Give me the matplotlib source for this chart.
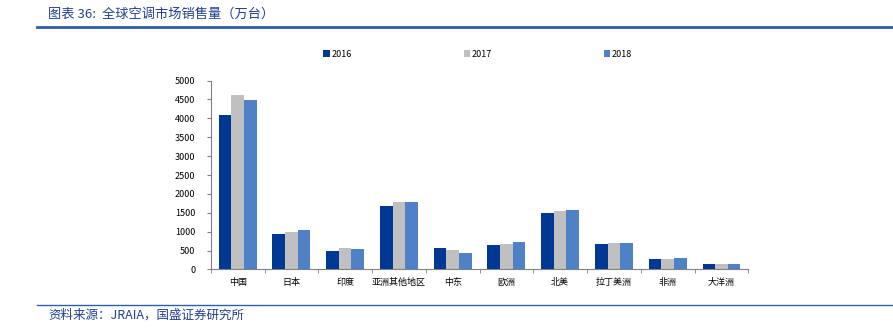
import numpy as np
import matplotlib
matplotlib.use("Agg")
import matplotlib.pyplot as plt

plt.rcParams['font.family'] = ['Noto Sans CJK SC', 'DejaVu Sans']

regions = ['中国', '日本', '印度', '亚洲其他地区', '中东', '欧洲', '北美', '拉丁美洲', '非洲', '大洋洲']
years = ['2016', '2017', '2018']
sales_2016 = [4090, 944, 485, 1670, 556, 636, 1485, 663, 281, 133]
sales_2017 = [4613, 989, 556, 1776, 512, 679, 1546, 689, 265, 141]
sales_2018 = [4480, 1050, 538, 1784, 441, 716, 1564, 689, 308, 141]
colors = ['#003893', '#c0c0c0', '#4f81c7']

fig = plt.figure(figsize=(8.93, 3.29), dpi=100)
ax = fig.add_axes([0.236, 0.181, 0.602, 0.574])

x = np.arange(len(regions))
w = 0.235
for i, (vals, c, lab) in enumerate(zip([sales_2016, sales_2017, sales_2018], colors, years)):
    ax.bar(x + (i - 1) * w, vals, w, color=c, label=lab, zorder=2)

ax.set_xlim(-0.5, len(regions) - 0.5)
ax.set_ylim(0, 5000)
ax.set_yticks(np.arange(0, 5001, 500))
ax.tick_params(axis='y', labelsize=6.5, length=3, color='#808080', pad=8)
ax.set_xticks(x)
ax.set_xticklabels(regions, fontsize=6.5)
ax.tick_params(axis='x', length=0, pad=6)
ax.set_xticks(np.arange(-0.5, len(regions)), minor=True)
ax.tick_params(axis='x', which='minor', length=3, color='#808080')
for s in ['top', 'right']:
    ax.spines[s].set_visible(False)
ax.spines['left'].set_color('#808080')
ax.spines['bottom'].set_color('#808080')
ax.spines['left'].set_linewidth(0.8)
ax.spines['bottom'].set_linewidth(0.8)

fig.legend(loc='center', bbox_to_anchor=(0.535, 0.835), ncol=3, frameon=False,
           fontsize=6.5, handlelength=0.7, handleheight=0.7, handletextpad=0.2,
           columnspacing=12.4)

# header and footer rules
title_color = '#1f3f8f'
fig.text(0.054, 0.958, '图表 36:  全球空调市场销售量（万台）', fontsize=9.5,
         color=title_color, style='italic', va='center')
fig.add_artist(plt.Line2D([0.041, 1.0], [0.918, 0.918], color='#2e5fa8', lw=2))
fig.add_artist(plt.Line2D([0.041, 1.0], [0.073, 0.073], color='#2e5fa8', lw=1))
fig.text(0.054, 0.042, '资料来源：JRAIA，国盛证券研究所', fontsize=9,
         color=title_color, style='italic', va='center')

fig.savefig('out.png', dpi=100)
